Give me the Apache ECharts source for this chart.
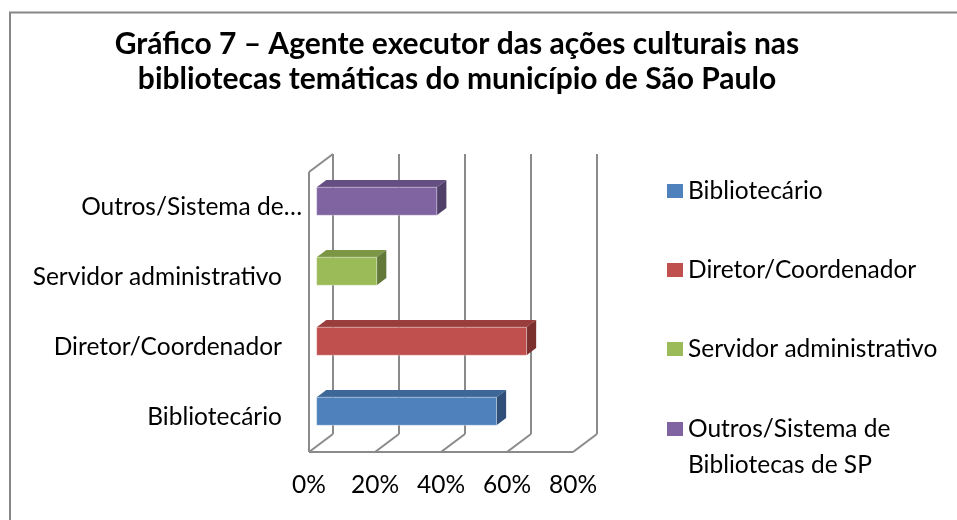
<!DOCTYPE html>
<html>
<head>
<meta charset="utf-8">
<script src="https://cdn.jsdelivr.net/npm/echarts@6/dist/echarts.min.js"></script>
<style>
  html, body { margin: 0; padding: 0; background: #fff; }
  #chart { width: 957px; height: 520px; }
</style>
</head>
<body>
<div id="chart"></div>
<script>
// data
const categories = ['Bibliotecário', 'Diretor/Coordenador', 'Servidor administrativo', 'Outros/Sistema de Bibliotecas de SP']
const shares = [54.5, 63.6, 18.2, 36.4]
const xTicks = [0, 20, 40, 60, 80]

const frontColors = ['#4f81bd', '#c0504d', '#9bbb59', '#8064a2']
const topColors = ['#3d6797', '#993e3c', '#7b9746', '#654f82']
const sideColors = ['#2f4f78', '#7b302e', '#627838', '#503f68']

// fake 3d depth (front plane -> back wall)
const DEPTH_X = 24
const DEPTH_Y = -18
const BAR_FRONT = 0.32
const BAR_BACK = 0.72
const FRAME_COLOR = '#8a8a8a'
const FONT = 'Lato'
const FONT_SIZE = 24.5

let chart = echarts.init(document.querySelector('#chart'))

function renderFrame(params, api) {
    const cs = params.coordSys
    const top = cs.y
    const bottom = cs.y + cs.height
    const fx = api.coord([api.value(0), 0])[0]
    const bx = fx + DEPTH_X
    const style = {stroke: FRAME_COLOR, lineWidth: 2, fill: null}
    const children = [
        {type: 'line', shape: {x1: bx, y1: top + DEPTH_Y, x2: bx, y2: bottom + DEPTH_Y}, style: style},
        {type: 'line', shape: {x1: fx, y1: bottom, x2: bx, y2: bottom + DEPTH_Y}, style: style}
    ]
    if (params.dataIndex === 0) {
        // left wall + front edge of the floor
        children.push({type: 'line', shape: {x1: fx, y1: top, x2: fx, y2: bottom}, style: style})
        children.push({type: 'line', shape: {x1: fx, y1: top, x2: bx, y2: top + DEPTH_Y}, style: style})
        children.push({type: 'line', shape: {x1: cs.x, y1: bottom, x2: cs.x + cs.width, y2: bottom}, style: style})
    }
    return {type: 'group', children: children}
}

function makeBarRenderer(i) {
    return function (params, api) {
        const cat = api.value(0)
        const p0 = api.coord([0, cat])
        const p1 = api.coord([api.value(1), cat])
        const h = api.size([0, 1])[1] * 0.4
        const x0 = p0[0] + DEPTH_X * BAR_FRONT
        const x1 = p1[0] + DEPTH_X * BAR_FRONT
        const yt = p0[1] + DEPTH_Y * BAR_FRONT - h / 2
        const yb = yt + h
        const ex = DEPTH_X * (BAR_BACK - BAR_FRONT)
        const ey = DEPTH_Y * (BAR_BACK - BAR_FRONT)
        return {
            type: 'group',
            children: [
                {type: 'polygon', shape: {points: [[x0, yt], [x1, yt], [x1 + ex, yt + ey], [x0 + ex, yt + ey]]},
                    style: {fill: topColors[i]}},
                {type: 'polygon', shape: {points: [[x1, yt], [x1 + ex, yt + ey], [x1 + ex, yb + ey], [x1, yb]]},
                    style: {fill: sideColors[i]}},
                {type: 'rect', shape: {x: x0, y: yt, width: x1 - x0, height: h},
                    style: {fill: frontColors[i], stroke: 'rgba(255,255,255,0.35)', lineWidth: 1}}
            ]
        }
    }
}

const barSeries = categories.map((name, i) => ({
    name: name,
    type: 'custom',
    z: 3,
    clip: false,
    itemStyle: {color: frontColors[i]},
    encode: {x: 1, y: 0},
    data: [[i, shares[i]]],
    renderItem: makeBarRenderer(i)
}))

const legendBase = {
    orient: 'vertical',
    left: 667,
    padding: 0,
    itemGap: 53,
    itemWidth: 16,
    itemHeight: 14,
    icon: 'rect',
    textStyle: {fontFamily: FONT, fontSize: FONT_SIZE, lineHeight: 26, color: '#000'}
}

chart.setOption({
    animation: false,
    backgroundColor: '#fff',
    title: {
        text: 'Gráfico 7 – Agente executor das ações culturais nas\nbibliotecas temáticas do município de São Paulo',
        left: 452,
        top: 22,
        textAlign: 'center',
        textStyle: {fontFamily: FONT, fontWeight: 'bold', fontSize: 30, lineHeight: 35, color: '#000'}
    },
    graphic: [{
        type: 'rect',
        z: -10,
        shape: {x: 10, y: 12.5, width: 1000, height: 600},
        style: {fill: null, stroke: '#878787', lineWidth: 2}
    }],
    legend: [
        Object.assign({}, legendBase, {top: 178, data: categories.slice(0, 3)}),
        // wrapped item: blank first line keeps "Outros/Sistema de" level with the swatch
        Object.assign({}, legendBase, {
            top: 375,
            data: categories.slice(3),
            textStyle: {fontFamily: FONT, fontSize: FONT_SIZE, lineHeight: 36, color: '#000'},
            formatter: () => ' \nOutros/Sistema de\nBibliotecas de SP'
        })
    ],
    grid: {left: 309, top: 172, width: 264, height: 280},
    xAxis: {
        type: 'value',
        min: 0,
        max: 80,
        interval: 20,
        axisLine: {show: false},
        axisTick: {show: false},
        splitLine: {show: false},
        axisLabel: {margin: 21, fontFamily: FONT, fontSize: FONT_SIZE, color: '#000', formatter: '{value}%'}
    },
    yAxis: {
        type: 'category',
        data: categories,
        axisLine: {show: false},
        axisTick: {show: false},
        splitLine: {show: false},
        axisLabel: {
            margin: 7,
            fontFamily: FONT,
            fontSize: FONT_SIZE,
            color: '#000',
            formatter: v => v === categories[3] ? '{t|Outros/Sistema de…}' : '{n|' + v + '}',
            rich: {
                n: {fontFamily: FONT, fontSize: FONT_SIZE, color: '#000', padding: [0, 20, 0, 0]},
                t: {fontFamily: FONT, fontSize: FONT_SIZE, color: '#000'}
            }
        }
    },
    series: [{
        type: 'custom',
        name: 'frame',
        z: 1,
        clip: false,
        silent: true,
        encode: {x: 0, y: 1},
        data: xTicks.map(t => [t, 0]),
        renderItem: renderFrame
    }].concat(barSeries)
})
</script>
</body>
</html>
